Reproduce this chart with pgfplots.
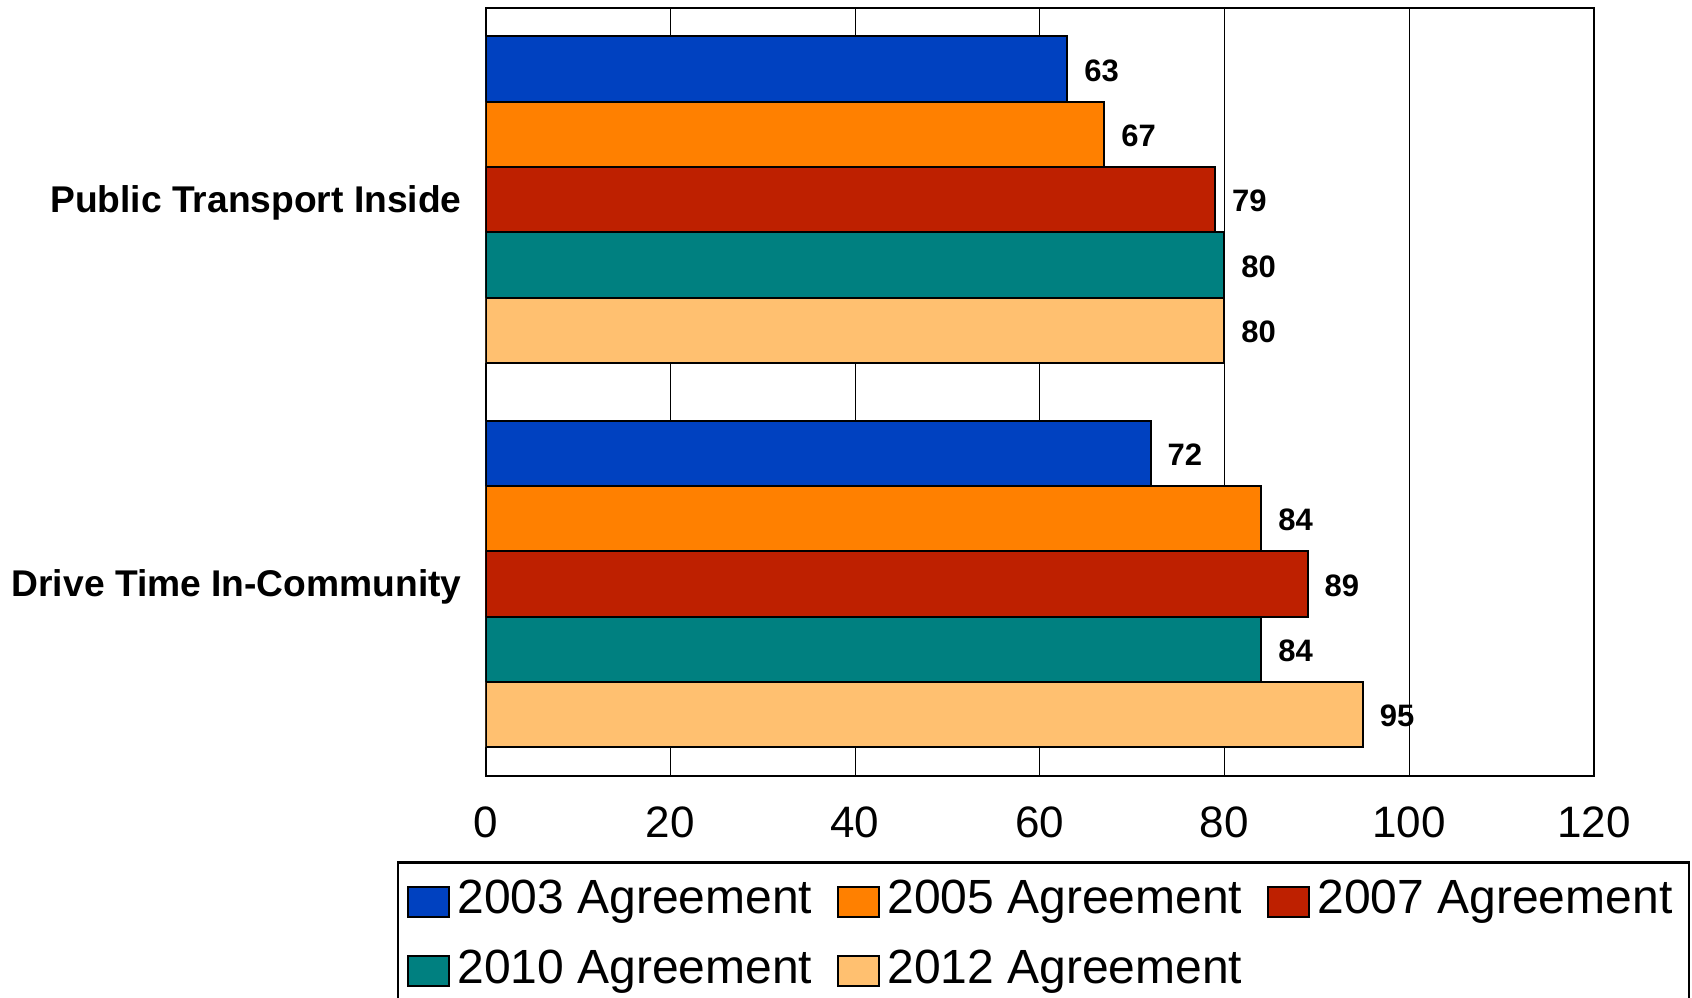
\documentclass[border=0pt]{standalone}
\usepackage{fontspec}
\setmainfont{Liberation Sans}
\usepackage{pgfplots}
\pgfplotsset{compat=1.18}

\definecolor{cBlue}{RGB}{0,65,192}
\definecolor{cOrange}{RGB}{255,128,0}
\definecolor{cRed}{RGB}{190,32,0}
\definecolor{cTeal}{RGB}{0,128,128}
\definecolor{cPeach}{RGB}{255,192,112}

\begin{document}
\begin{tikzpicture}
\begin{axis}[
  at={(242.8pt,-388pt)}, anchor=south west,
  scale only axis, width=554.1pt, height=384.2pt,
  xbar, bar width=0.17,
  xmin=0, xmax=120, ymin=-0.5, ymax=1.5,
  xtick={0,20,...,120},
  ytick={0,1},
  yticklabels={Drive Time In-Community, Public Transport Inside},
  major tick length=0pt,
  xmajorgrids, grid style={black, line width=0.5pt},
  axis line style={black, line width=1pt},
  /pgf/number format/assume math mode=true,
  xticklabel style={font=\fontsize{22}{26}\selectfont, anchor=north, inner sep=0pt, yshift=-15pt},
  yticklabel style={font=\bfseries\fontsize{18.6}{22}\selectfont, anchor=east, inner sep=0pt, xshift=-11.8pt, yshift=-1.5pt},
  nodes near coords,
  every node near coord/.append style={font=\bfseries\fontsize{15.5}{18}\selectfont, anchor=west, inner sep=0pt, xshift=8pt, yshift=-0.8pt, text=black},
  every axis plot/.append style={draw=black, line width=1pt},
  legend columns=3,
  legend image code/.code={\draw[#1, line width=0.9pt] (0pt,-7.5pt) rectangle (20.5pt,7.5pt);},
  legend style={
    at={(axis description cs:-0.0800,-0.1109)}, anchor=north west,
    draw=black, line width=1.2pt,
    font=\fontsize{24}{28}\selectfont,
    inner xsep=4.5pt, inner ysep=8.7pt,
    row sep=12.7pt,
    nodes={inner xsep=3.7pt, inner ysep=0pt, text height=17pt, text depth=5pt},
    /tikz/every even column/.append style={column sep=8.8pt},
  },
  legend cell align=left,
]
\addplot[fill=cBlue,   bar shift=0.34]  coordinates {(63,1) (72,0)};
\addplot[fill=cOrange, bar shift=0.17]  coordinates {(67,1) (84,0)};
\addplot[fill=cRed,    bar shift=0]     coordinates {(79,1) (89,0)};
\addplot[fill=cTeal,   bar shift=-0.17] coordinates {(80,1) (84,0)};
\addplot[fill=cPeach,  bar shift=-0.34] coordinates {(80,1) (95,0)};
\legend{2003 Agreement, 2005 Agreement, 2007 Agreement, 2010 Agreement, 2012 Agreement}
\end{axis}
\pgfresetboundingbox
\path[use as bounding box] (0pt,0pt) rectangle (846pt,-498.5pt);
\end{tikzpicture}
\end{document}
